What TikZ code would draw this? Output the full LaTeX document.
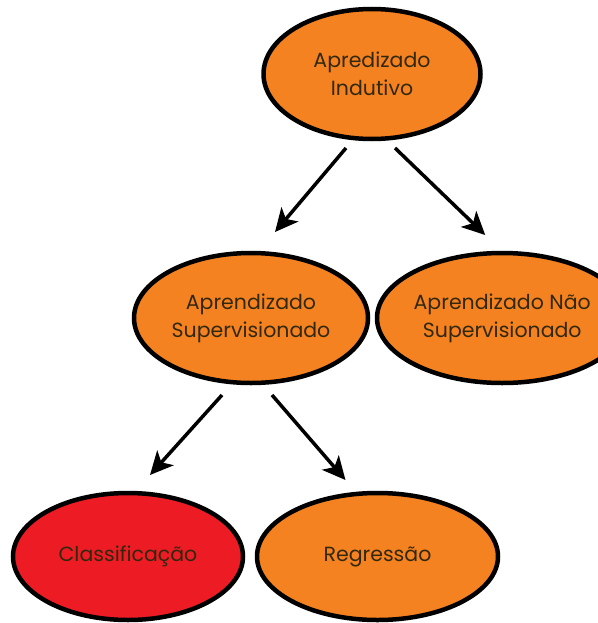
\documentclass[tikz,border=0pt]{standalone}
\usepackage{fontspec}
\setmainfont{Poppins}
\usepackage{xcolor}
\definecolor{ovorange}{RGB}{245,130,32}
\definecolor{ovred}{RGB}{237,28,36}
\definecolor{txtdark}{RGB}{50,40,15}
\usetikzlibrary{shapes.geometric,arrows.meta,positioning}

\begin{document}
\begin{tikzpicture}[
  x=1pt,y=1pt,
  ell/.style={ellipse,draw=black,line width=4.5pt,fill=ovorange,inner sep=0pt,
    outer sep=0pt,align=center,text=txtdark,font=\fontsize{20.5}{28}\selectfont},
  arr/.style={-{Stealth[length=23pt,width=22pt,inset=6pt]},line width=3.5pt,black}]
  \useasboundingbox (0,0) rectangle (597,-623);
  \node[ell,minimum width=217pt,minimum height=130pt](top) at (372,-74){Apredizado\\Indutivo};
  \node[ell,minimum width=234pt,minimum height=130pt,below=114pt of top,xshift=-121pt](sup){Aprendizado\\Supervisionado};
  \node[ell,minimum width=219pt,minimum height=130pt,right=9pt of sup](nsup){Aprendizado Não\\Supervisionado};
  \node[ell,fill=ovred,minimum width=230pt,minimum height=127pt,below=110pt of sup,xshift=-123pt](cls){Classificação};
  \node[ell,minimum width=241pt,minimum height=127pt,right=14pt of cls](reg){Regressão};
  \draw[arr]([xshift=-26pt,yshift=-9pt]top.south)--([xshift=24pt,yshift=21pt]sup.north);
  \draw[arr]([xshift=23pt,yshift=-9pt]top.south)--([xshift=-17pt,yshift=18pt]nsup.north);
  \draw[arr]([xshift=-29pt,yshift=-12pt]sup.south)--([xshift=22pt,yshift=18pt]cls.north);
  \draw[arr]([xshift=21pt,yshift=-12pt]sup.south)--([xshift=-32pt,yshift=13pt]reg.north);
\end{tikzpicture}
\end{document}
